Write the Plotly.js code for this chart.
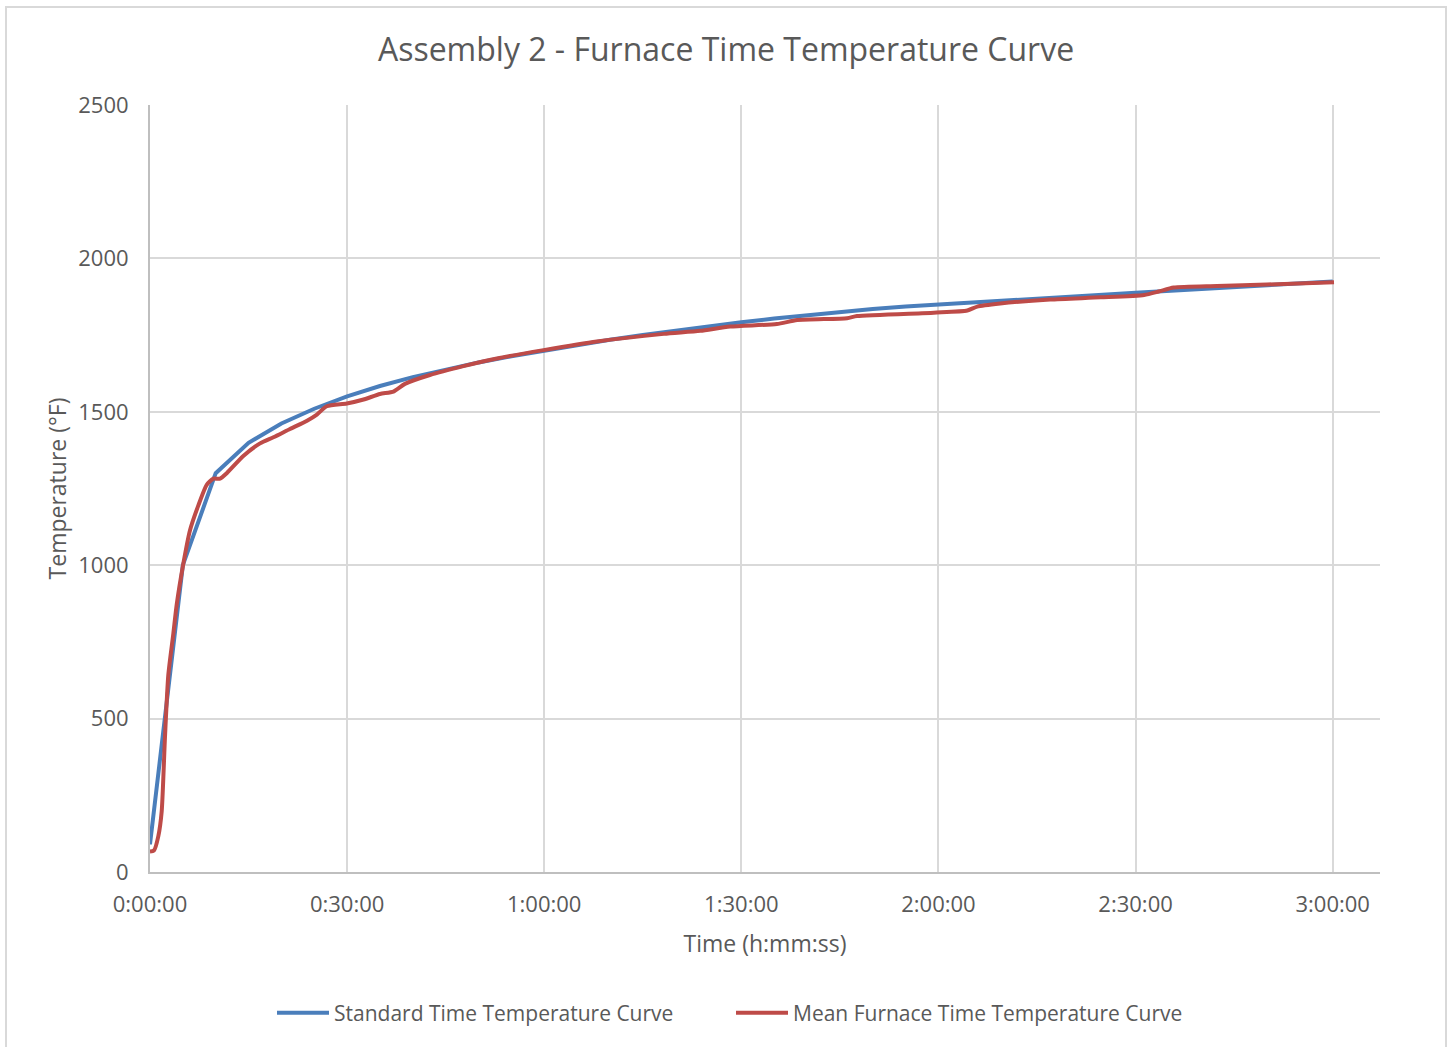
<!DOCTYPE html>
<html>
<head>
<meta charset="utf-8">
<script src="https://cdn.plot.ly/plotly-3.0.1.min.js"></script>
<style>
  html, body { margin: 0; padding: 0; background: #fff; }
  #wrap { position: relative; width: 1452px; height: 1047px; overflow: hidden; }
  #chart { width: 1452px; height: 1047px; }
  #frame { position: absolute; left: 5px; top: 6px; width: 1438px; height: 1100px;
           border: 2px solid #d9d9d9; pointer-events: none; }
</style>
</head>
<body>
<div id="wrap">
  <div id="chart"></div>
  <div id="frame"></div>
</div>
<script>
// Time in minutes
const stdTime = [0, 5, 10, 15, 20, 25, 30, 35, 40, 45, 50, 55, 60, 65, 70, 75, 80, 85, 90, 95, 100, 105, 110, 115, 120, 130, 140, 150, 160, 170, 180];
const stdTemp = [90, 1000, 1300, 1399, 1462, 1510, 1550, 1584, 1613, 1638, 1661, 1681, 1700, 1718, 1735, 1750, 1765, 1779, 1792, 1804, 1815, 1826, 1835, 1843, 1850, 1862, 1875, 1888, 1900, 1912, 1925];

const meanTime = [0, 0.6, 1.27, 1.78, 2.28, 2.79, 3.55, 4.06, 5.08, 6.09, 7.36, 8.63, 9.64, 10.66, 11.68, 14.2, 16.75, 18.78, 21.3, 23.9, 25.4, 26.9, 29.95, 32.5, 35.0, 37.05, 38.8, 42.6, 47.7, 52.8, 59.9, 68.0, 78.2, 83.75, 88.3, 95.4, 98.5, 106.1, 107.6, 119.3, 124.4, 125.9, 129.4, 137.0, 144.7, 151.3, 153.5, 155.8, 162.4, 170.0, 180.2];
const meanTemp = [67, 70, 117, 198, 440, 643, 777, 871, 1006, 1114, 1195, 1262, 1282, 1282, 1300, 1356, 1397, 1417, 1444, 1471, 1491, 1518, 1527, 1540, 1558, 1566, 1591, 1620, 1649, 1674, 1701, 1729, 1754, 1764, 1778, 1786, 1799, 1805, 1812, 1823, 1830, 1843, 1853, 1866, 1873, 1881, 1892, 1905, 1910, 1915, 1922];

const xTickVals = [0, 30, 60, 90, 120, 150, 180];
const xTickText = ['0:00:00', '0:30:00', '1:00:00', '1:30:00', '2:00:00', '2:30:00', '3:00:00'];
const yTickVals = [0, 500, 1000, 1500, 2000, 2500];

const FONT = 'Open Sans, Noto Sans, sans-serif';
const GREY = '#595959';

const traces = [
  { x: stdTime, y: stdTemp, type: 'scatter', mode: 'lines', name: 'Standard Time Temperature Curve',
    line: { color: '#4a7ebb', width: 4 } },
  { x: meanTime, y: meanTemp, type: 'scatter', mode: 'lines', name: 'Mean Furnace Time Temperature Curve',
    line: { color: '#be4b48', width: 4, shape: 'spline', smoothing: 0.6 } }
];

const layout = {
  width: 1452, height: 1047,
  margin: { l: 150, r: 72, t: 105, b: 175 },
  paper_bgcolor: '#fff', plot_bgcolor: '#fff',
  font: { family: FONT, color: GREY, size: 22 },
  title: { text: 'Assembly 2 - Furnace Time Temperature Curve', font: { family: FONT, size: 32, color: GREY },
           x: 0.5, xref: 'container', xanchor: 'center', y: 0.952, yanchor: 'middle' },
  xaxis: {
    range: [0, 187.2], tickvals: xTickVals, ticktext: xTickText,
    showgrid: true, gridcolor: '#d9d9d9', gridwidth: 2,
    showline: true, linecolor: '#bfbfbf', linewidth: 2,
    zeroline: false, ticks: '', tickfont: { size: 22, color: GREY }, ticklabelstandoff: 12,
    title: { text: 'Time (h:mm:ss)', font: { size: 23, color: GREY }, standoff: 18 },
    fixedrange: true
  },
  yaxis: {
    range: [0, 2500], tickvals: yTickVals,
    showgrid: true, gridcolor: '#d9d9d9', gridwidth: 2,
    showline: true, linecolor: '#bfbfbf', linewidth: 2,
    zeroline: false, ticks: '', tickfont: { size: 22, color: GREY }, ticklabelstandoff: 15,
    title: { text: 'Temperature (°F)', font: { size: 23, color: GREY }, standoff: 5 },
    fixedrange: true
  },
  showlegend: true,
  legend: { orientation: 'h', x: 0.5 + 5 / 1452, xref: 'container', xanchor: 'center',
            y: 1 - 1013 / 1047, yref: 'container', yanchor: 'middle',
            font: { size: 21, color: GREY }, itemwidth: 52, entrywidth: 392, tracegroupgap: 0 },
};

Plotly.newPlot('chart', traces, layout, { staticPlot: true, displayModeBar: false });
</script>
</body>
</html>
